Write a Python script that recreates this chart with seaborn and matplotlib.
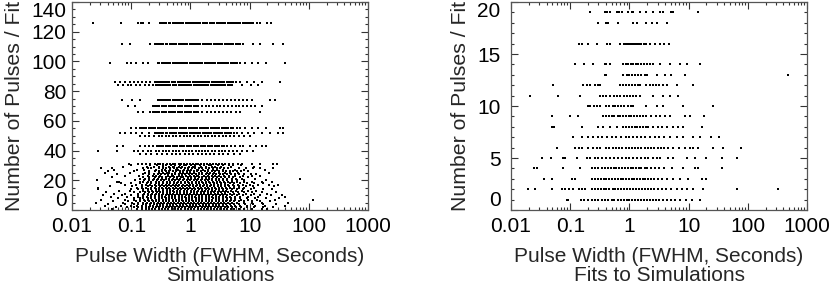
import numpy as np
import pandas as pd
import matplotlib
matplotlib.use("Agg")
import matplotlib.pyplot as plt
import seaborn as sns
from matplotlib.ticker import FixedLocator, MultipleLocator, LogLocator, NullFormatter

# ---- left panel: simulations (pulse widths for each number of pulses) ----
sim_126 = [0.023, 0.066, 0.13, 0.145, 0.16, 0.2, 0.31, 0.335, 0.36, 0.39, 0.43, 0.46, 0.5, 0.55, 0.6, 0.65, 0.7,
           0.76, 0.83, 0.9, 0.98, 1.06, 1.15, 1.25, 1.36, 1.48, 1.61, 1.75, 1.9, 2.15, 2.35, 2.55, 2.78, 3.0, 3.3,
           3.6, 3.9, 4.25, 4.6, 5.0, 5.45, 5.9, 6.4, 7.0, 7.6, 8.3, 9.0, 9.8, 10.7, 11.6, 13.5, 15, 19.5, 23]
sim_112 = [0.07, 0.095, 0.21, 0.25, 0.27, 0.295, 0.32, 0.35, 0.38, 0.41, 0.45, 0.49, 0.53, 0.58, 0.63, 0.69, 0.75,
           0.82, 0.89, 0.97, 1.05, 1.15, 1.25, 1.36, 1.48, 1.61, 1.75, 1.91, 2.08, 2.26, 2.46, 2.68, 2.92, 3.18,
           3.46, 3.77, 4.1, 4.5, 4.9, 5.3, 5.8, 6.3, 6.9, 7.8, 11.4, 15, 24.5, 37]
sim_99 = [0.044, 0.085, 0.1, 0.12, 0.16, 0.19, 0.28, 0.3, 0.33, 0.36, 0.39, 0.42, 0.46, 0.5, 0.54, 0.59, 0.64, 0.7,
          0.76, 0.82, 0.89, 0.97, 1.05, 1.14, 1.24, 1.35, 1.47, 1.6, 1.74, 1.89, 2.05, 2.23, 2.43, 2.64, 2.87, 3.12,
          3.4, 3.7, 4.0, 4.4, 4.8, 5.2, 5.6, 6.1, 6.9, 8.5, 11, 14, 19, 39]
sim_86 = [0.053, 0.064, 0.078, 0.094, 0.11, 0.13, 0.155, 0.18, 0.21, 0.25, 0.27, 0.29, 0.315, 0.34, 0.37, 0.4, 0.44,
          0.48, 0.52, 0.56, 0.61, 0.66, 0.72, 0.78, 0.85, 0.92, 1.0, 1.09, 1.18, 1.28, 1.39, 1.51, 1.64, 1.78, 1.93,
          2.1, 2.28, 2.48, 2.7, 2.93, 3.18, 3.45, 3.75, 4.1, 4.45, 4.85, 5.3, 5.8, 6.9, 9, 12, 16, 33]
sim_84 = [0.06, 0.072, 0.088, 0.1, 0.12, 0.14, 0.17, 0.2, 0.23, 0.26, 0.28, 0.305, 0.33, 0.36, 0.39, 0.42, 0.46, 0.5,
          0.54, 0.58, 0.63, 0.69, 0.75, 0.81, 0.88, 0.96, 1.04, 1.13, 1.23, 1.34, 1.45, 1.58, 1.72, 1.86, 2.02, 2.2,
          2.4, 2.6, 2.82, 3.06, 3.32, 3.6, 3.9, 4.25, 4.65, 5.1, 7.5, 10.5, 14]
sim_74 = [0.07, 0.104, 0.14, 0.28, 0.305, 0.33, 0.36, 0.39, 0.42, 0.46, 0.5, 0.54, 0.59, 0.64, 0.7, 0.76, 0.83, 0.9,
          0.98, 1.07, 1.16, 1.26, 1.37, 1.6, 1.9, 2.2, 2.6, 3.0, 3.5, 4.1, 4.8, 5.6, 6.5, 7.6, 8.9, 11, 22, 27]
sim_70 = [0.088, 0.116, 0.23, 0.25, 0.275, 0.3, 0.33, 0.36, 0.39, 0.43, 0.47, 0.51, 0.56, 0.61, 0.67, 0.73, 0.8, 0.87,
          0.95, 1.04, 1.13, 1.24, 1.35, 1.6, 1.8, 2.1, 2.4, 2.8, 3.2, 3.7, 4.3, 5.0, 5.8, 6.7, 7.8, 9.0, 10.5, 12.3,
          16.5]
sim_66 = [0.13, 0.16, 0.21, 0.23, 0.25, 0.275, 0.3, 0.33, 0.36, 0.39, 0.43, 0.47, 0.51, 0.56, 0.61, 0.67, 0.73, 0.8,
          0.87, 0.95, 1.04, 1.13, 1.24, 1.35, 1.6, 1.9, 2.2, 2.6, 3.0, 3.6, 4.2, 4.9, 5.8, 6.9, 15]
sim_55 = [0.1, 0.12, 0.14, 0.15, 0.165, 0.18, 0.2, 0.215, 0.235, 0.255, 0.28, 0.305, 0.33, 0.36, 0.39, 0.43, 0.47,
          0.51, 0.55, 0.6, 0.66, 0.72, 0.78, 0.85, 0.93, 1.01, 1.1, 1.2, 1.31, 1.43, 1.56, 1.7, 1.85, 2.02, 2.2, 2.4,
          2.62, 2.85, 3.1, 3.4, 3.7, 4.05, 4.4, 4.8, 5.3, 6.1, 6.9, 8.5, 11, 14, 19, 33, 37]
sim_52 = [0.065, 0.08, 0.1, 0.12, 0.15, 0.2, 0.25, 0.27, 0.295, 0.32, 0.35, 0.38, 0.41, 0.45, 0.49, 0.53, 0.58, 0.63,
          0.69, 0.75, 0.82, 0.89, 0.97, 1.06, 1.15, 1.25, 1.36, 1.48, 1.61, 1.75, 1.91, 2.08, 2.26, 2.46, 2.68, 2.92,
          3.18, 3.46, 3.77, 4.1, 4.5, 4.9, 5.4, 6.1, 7.5, 9.5, 12, 16, 22, 30, 37]
sim_50 = [0.14, 0.17, 0.2, 0.24, 0.29, 0.33, 0.38, 0.44, 0.51, 0.58, 0.67, 0.77, 0.89, 1.0, 1.15, 1.32, 1.52, 1.75,
          2.0, 2.3, 2.65, 3.05, 3.5, 4.0, 4.7, 5.5, 6.5, 8.0, 10]
sim_43 = [0.058, 0.073, 0.14, 0.17, 0.2, 0.23, 0.27, 0.295, 0.32, 0.35, 0.38, 0.42, 0.46, 0.5, 0.55, 0.6, 0.66, 0.72,
          0.79, 0.86, 0.94, 1.03, 1.13, 1.24, 1.36, 1.49, 1.63, 1.79, 1.96, 2.15, 2.36, 2.59, 2.84, 3.1, 3.4, 3.75,
          4.2, 4.8, 5.6, 6.9, 7.8, 10, 13, 16, 19]
sim_40 = [0.028, 0.058, 0.11, 0.13, 0.16, 0.19, 0.22, 0.26, 0.3, 0.34, 0.39, 0.44, 0.5, 0.57, 0.65, 0.74, 0.84, 0.95,
          1.08, 1.22, 1.38, 1.56, 1.77, 2.0, 2.3, 2.6, 3.0, 3.4, 3.9, 4.5, 5.2, 6.1, 7.4, 9, 11.5]
sim_38 = [0.14, 0.18, 0.22, 0.27, 0.33, 0.4, 0.48, 0.57, 0.68, 0.8, 0.95, 1.12, 1.32, 1.55, 1.82, 2.15, 2.55, 3.0,
          3.6, 4.4, 5.4, 6.9]
sim_31 = [0.093, 0.13, 0.15, 0.18, 0.21, 0.25, 0.28, 0.31, 0.35, 0.4, 0.45, 0.5, 0.56, 0.63, 0.7, 0.78, 0.88, 0.98,
          1.1, 1.22, 1.37, 1.53, 1.7, 1.9, 2.15, 2.4, 2.7, 3.0, 3.4, 3.8, 4.5, 5.3, 6.3, 7.4, 11, 15, 25, 29]
sim_30 = [0.1, 0.21, 0.27, 0.34, 0.39, 0.47, 0.55, 0.68, 0.79, 0.83, 1.04, 1.21, 1.43, 1.71, 2.06, 2.21, 2.94, 3.6,
          4.45, 5.3, 7.1]
sim_29 = [0.072, 0.185, 0.24, 0.3, 0.35, 0.43, 0.5, 0.53, 0.64, 0.72, 0.94, 1.1, 1.18, 1.52, 1.8, 2.33, 2.6, 3.25,
          4.9, 12]
sim_28 = [0.031, 0.047, 0.16, 0.19, 0.22, 0.3, 0.34, 0.39, 0.45, 0.52, 0.6, 0.7, 0.8, 0.92, 1.05, 1.2, 1.4, 1.6,
          1.85, 2.1, 2.45, 2.8, 3.2, 3.7, 4.3, 6.5, 8.8, 11.5, 15, 25]
sim_27 = [0.052, 0.125, 0.165, 0.26, 0.33, 0.37, 0.46, 0.58, 0.61, 0.78, 0.9, 1.02, 1.27, 1.36, 1.62, 1.95, 2.45, 2.8,
          3.5, 5.6, 8.1, 18]
sim_26 = [0.04, 0.11, 0.2, 0.25, 0.29, 0.33, 0.38, 0.44, 0.5, 0.58, 0.66, 0.76, 0.87, 1.0, 1.15, 1.3, 1.5, 1.75,
          2.0, 2.3, 2.6, 3.0, 3.5, 4.0, 4.6, 5.3, 6.2, 7.2, 9.5]
sim_25 = [0.036, 0.095, 0.17, 0.2, 0.29, 0.34, 0.4, 0.44, 0.56, 0.67, 0.74, 0.88, 1.0, 1.16, 1.39, 1.57, 1.9, 2.15,
          2.55, 3.1, 3.8, 4.6, 6.3, 21]
sim_24 = [0.057, 0.16, 0.2, 0.24, 0.28, 0.32, 0.37, 0.42, 0.48, 0.55, 0.63, 0.72, 0.82, 0.94, 1.08, 1.23, 1.4, 1.6,
          1.85, 2.1, 2.4, 2.75, 3.15, 3.6, 4.1, 4.8, 5.6, 6.5, 8.0, 10.5, 13]
sim_23 = [0.078, 0.135, 0.19, 0.23, 0.26, 0.31, 0.42, 0.48, 0.51, 0.63, 0.71, 0.85, 0.97, 1.13, 1.29, 1.35, 1.72,
          1.98, 2.3, 2.62, 3.05, 3.7, 4.5, 5.6, 7.6, 10.8, 15]
sim_22 = [0.047, 0.16, 0.2, 0.25, 0.3, 0.33, 0.39, 0.45, 0.52, 0.59, 0.69, 0.76, 0.91, 1.01, 1.19, 1.38, 1.55, 1.82,
          2.09, 2.4, 2.78, 3.25, 3.8, 4.45, 5.3, 6.9, 9.4]
sim_21 = [0.14, 0.17, 0.2, 0.24, 0.28, 0.33, 0.38, 0.44, 0.51, 0.59, 0.68, 0.78, 0.9, 1.03, 1.18, 1.35, 1.55, 1.8,
          2.05, 2.35, 2.7, 3.1, 3.6, 4.2, 5.0, 6.0, 7.5, 12.5, 71]
sim_20 = [0.026, 0.115, 0.165, 0.2, 0.235, 0.27, 0.32, 0.36, 0.43, 0.48, 0.56, 0.65, 0.74, 0.86, 0.99, 1.14, 1.3,
          1.52, 1.75, 2.0, 2.32, 2.67, 3.08, 3.55, 4.2, 5.0, 6.2, 8.0, 19]
sim_19 = [0.058, 0.063, 0.14, 0.16, 0.19, 0.22, 0.26, 0.3, 0.35, 0.4, 0.46, 0.53, 0.61, 0.7, 0.8, 0.92, 1.06, 1.22,
          1.4, 1.6, 1.85, 2.1, 2.45, 2.8, 3.2, 3.7, 4.3, 5.1, 6.2, 8.2, 11, 16, 24]
sim_18 = [0.067, 0.1, 0.14, 0.185, 0.215, 0.26, 0.3, 0.345, 0.4, 0.46, 0.53, 0.6, 0.7, 0.8, 0.93, 1.07, 1.22, 1.41,
          1.62, 1.86, 2.15, 2.48, 2.85, 3.3, 3.85, 4.6, 5.5, 6.8, 9, 12, 17]
sim_17 = [0.08, 0.12, 0.15, 0.18, 0.21, 0.25, 0.29, 0.33, 0.38, 0.44, 0.5, 0.57, 0.65, 0.75, 0.86, 0.98, 1.12, 1.28,
          1.46, 1.67, 1.9, 2.2, 2.5, 2.9, 3.3, 3.8, 4.4, 5.2, 6.3, 7.8, 10, 14, 21, 30]
sim_16 = [0.043, 0.105, 0.15, 0.19, 0.225, 0.265, 0.31, 0.355, 0.41, 0.475, 0.545, 0.62, 0.72, 0.82, 0.95, 1.09,
          1.25, 1.43, 1.64, 1.89, 2.17, 2.5, 2.87, 3.3, 3.85, 4.55, 5.45, 6.6, 8.6, 11.5, 26]
sim_15 = [0.027, 0.125, 0.15, 0.18, 0.215, 0.25, 0.29, 0.335, 0.385, 0.44, 0.505, 0.58, 0.665, 0.76, 0.875, 1.0,
          1.15, 1.32, 1.52, 1.75, 2.0, 2.3, 2.63, 3.0, 3.45, 4.0, 4.65, 5.45, 6.5, 7.9, 12]
sim_14 = [0.028, 0.1, 0.13, 0.16, 0.19, 0.22, 0.26, 0.3, 0.35, 0.4, 0.46, 0.53, 0.61, 0.7, 0.8, 0.92, 1.05, 1.2, 1.38,
          1.58, 1.8, 2.06, 2.36, 2.7, 3.1, 3.6, 4.2, 5.0, 6.1, 7.8, 10.5, 17, 24]
sim_13 = [0.062, 0.095, 0.16, 0.195, 0.225, 0.26, 0.3, 0.345, 0.395, 0.45, 0.515, 0.59, 0.675, 0.775, 0.89, 1.02,
          1.17, 1.34, 1.54, 1.76, 2.02, 2.31, 2.65, 3.04, 3.5, 4.05, 4.8, 5.8, 7.3, 9.5, 13]
sim_12 = [0.037, 0.11, 0.14, 0.17, 0.2, 0.23, 0.27, 0.31, 0.35, 0.4, 0.46, 0.52, 0.6, 0.68, 0.78, 0.89, 1.01, 1.15,
          1.31, 1.5, 1.71, 1.95, 2.22, 2.53, 2.9, 3.3, 3.8, 4.4, 5.2, 6.3, 8.0, 11, 16, 28]
sim_11 = [0.052, 0.08, 0.13, 0.165, 0.195, 0.225, 0.26, 0.3, 0.345, 0.395, 0.45, 0.515, 0.59, 0.675, 0.775, 0.88,
          1.0, 1.15, 1.31, 1.5, 1.72, 1.97, 2.25, 2.58, 2.95, 3.4, 3.9, 4.6, 5.5, 6.7, 8.6, 12, 20]
sim_10 = [0.033, 0.07, 0.1, 0.13, 0.16, 0.19, 0.22, 0.25, 0.29, 0.33, 0.38, 0.43, 0.49, 0.56, 0.64, 0.73, 0.83, 0.95,
          1.08, 1.23, 1.4, 1.6, 1.83, 2.09, 2.39, 2.73, 3.12, 3.6, 4.2, 5.0, 6.1, 7.8, 10.5, 15, 23, 35]
sim_9 = [0.046, 0.085, 0.13, 0.16, 0.185, 0.215, 0.25, 0.29, 0.33, 0.375, 0.43, 0.49, 0.555, 0.63, 0.72, 0.815, 0.93,
         1.06, 1.21, 1.38, 1.58, 1.8, 2.05, 2.35, 2.68, 3.07, 3.5, 4.05, 4.7, 5.6, 7.0, 9.3, 14, 40]
sim_8 = [0.06, 0.11, 0.14, 0.16, 0.19, 0.22, 0.25, 0.29, 0.33, 0.38, 0.43, 0.49, 0.56, 0.64, 0.73, 0.83, 0.95, 1.08,
         1.23, 1.4, 1.6, 1.82, 2.08, 2.37, 2.7, 3.1, 3.55, 4.1, 4.8, 5.7, 7.0, 9.0, 12.5, 19, 31]
sim_7 = [0.031, 0.078, 0.11, 0.14, 0.165, 0.195, 0.225, 0.26, 0.3, 0.34, 0.385, 0.44, 0.5, 0.565, 0.64, 0.73, 0.83,
         0.95, 1.08, 1.23, 1.4, 1.6, 1.82, 2.07, 2.36, 2.7, 3.08, 3.55, 4.1, 4.8, 5.7, 7.1, 9.5, 13.5, 27, 117]
sim_6 = [0.05, 0.09, 0.12, 0.14, 0.17, 0.2, 0.23, 0.26, 0.3, 0.34, 0.39, 0.44, 0.5, 0.57, 0.65, 0.74, 0.84, 0.96,
         1.09, 1.24, 1.41, 1.6, 1.82, 2.07, 2.36, 2.69, 3.07, 3.5, 4.0, 4.6, 5.4, 6.5, 8.2, 10.8, 15, 22]
sim_5 = [0.025, 0.072, 0.105, 0.13, 0.16, 0.185, 0.215, 0.245, 0.28, 0.32, 0.365, 0.415, 0.47, 0.535, 0.61, 0.695,
         0.79, 0.9, 1.02, 1.16, 1.32, 1.5, 1.71, 1.95, 2.22, 2.52, 2.88, 3.28, 3.75, 4.35, 5.1, 6.2, 8.0, 11, 16.5, 45]
sim_4 = [0.04, 0.08, 0.11, 0.13, 0.16, 0.18, 0.21, 0.24, 0.27, 0.31, 0.35, 0.4, 0.45, 0.51, 0.58, 0.66, 0.75, 0.85,
         0.97, 1.1, 1.25, 1.42, 1.61, 1.83, 2.08, 2.37, 2.7, 3.08, 3.5, 4.0, 4.6, 5.4, 6.6, 8.4, 11.5, 17, 28]
sim_3 = [0.036, 0.068, 0.1, 0.125, 0.15, 0.18, 0.205, 0.235, 0.27, 0.31, 0.35, 0.395, 0.45, 0.515, 0.585, 0.665,
         0.755, 0.86, 0.97, 1.1, 1.26, 1.43, 1.62, 1.85, 2.1, 2.4, 2.72, 3.1, 3.55, 4.1, 4.8, 5.7, 7.0, 9.0, 12.5, 18,
         40]
sim_2 = [0.055, 0.085, 0.11, 0.13, 0.15, 0.18, 0.2, 0.23, 0.26, 0.3, 0.34, 0.38, 0.43, 0.49, 0.56, 0.64, 0.72, 0.82,
         0.93, 1.06, 1.2, 1.36, 1.55, 1.76, 2.0, 2.27, 2.58, 2.93, 3.33, 3.8, 4.35, 5.0, 5.9, 7.2, 9.0, 12, 17, 25]
sim_1 = [0.047, 0.125, 0.15, 0.175, 0.2, 0.225, 0.255, 0.29, 0.33, 0.375, 0.425, 0.48, 0.545, 0.62, 0.705, 0.8, 0.905,
         1.03, 1.17, 1.32, 1.5, 1.71, 1.94, 2.2, 2.5, 2.85, 3.25, 3.7, 4.2, 4.8, 5.5, 6.6, 8.2, 11, 16, 20]

sim_levels = [126, 112, 99, 86, 84, 74, 70, 66, 55, 52, 50, 43, 40, 38, 31, 30, 29, 28, 27, 26, 25, 24, 23, 22, 21,
              20, 19, 18, 17, 16, 15, 14, 13, 12, 11, 10, 9, 8, 7, 6, 5, 4, 3, 2, 1]
sim_rows = [sim_126, sim_112, sim_99, sim_86, sim_84, sim_74, sim_70, sim_66, sim_55, sim_52, sim_50, sim_43, sim_40,
            sim_38, sim_31, sim_30, sim_29, sim_28, sim_27, sim_26, sim_25, sim_24, sim_23, sim_22, sim_21, sim_20,
            sim_19, sim_18, sim_17, sim_16, sim_15, sim_14, sim_13, sim_12, sim_11, sim_10, sim_9, sim_8, sim_7,
            sim_6, sim_5, sim_4, sim_3, sim_2, sim_1]

# ---- right panel: fits to simulations ----
fit_19 = [0.22, 0.39, 0.42, 0.47, 0.61, 0.68, 0.74, 0.96, 1.1, 1.17, 1.5, 1.9, 2.5, 3.3, 3.7, 5.1, 5.4, 14.4]
fit_18 = [0.29, 0.4, 0.44, 0.65, 1.17, 1.36, 1.94, 2.4, 2.9, 4.3]
fit_16 = [0.14, 0.16, 0.2, 0.28, 0.42, 0.47, 0.69, 0.8, 0.87, 0.95, 1.02, 1.1, 1.2, 1.3, 1.4, 1.5, 1.6, 1.75, 1.9,
          2.2, 2.7, 3.3, 3.8, 4.6]
fit_14 = [0.12, 0.17, 0.245, 0.39, 0.41, 0.47, 0.79, 0.87, 0.95, 1.05, 1.15, 1.27, 1.4, 1.55, 1.75, 2.0, 2.2, 2.5,
          3.3, 4.85, 7.2, 9.3, 15.5]
fit_13 = [0.39, 0.41, 0.79, 0.9, 1.0, 1.12, 1.25, 1.4, 1.6, 1.8, 2.0, 2.9, 4.0, 5.1, 8.7, 480]
fit_12 = [0.051, 0.165, 0.19, 0.22, 0.26, 0.3, 0.32, 0.69, 0.78, 0.88, 1.0, 1.12, 1.25, 1.4, 1.5, 1.94, 2.2, 2.5, 2.8,
          3.2, 3.7, 4.3, 6.3, 12]
fit_11 = [0.021, 0.063, 0.147, 0.32, 0.36, 0.41, 0.47, 0.55, 0.62, 0.7, 0.8, 0.9, 1.02, 1.15, 1.3, 1.5, 2.5, 3.7,
          4.85, 6.6]
fit_10 = [0.2, 0.22, 0.25, 0.28, 0.32, 0.41, 0.46, 0.52, 0.58, 0.65, 0.73, 0.82, 0.93, 1.05, 1.17, 1.94, 2.9, 3.7,
          8.1, 26]
fit_9 = [0.049, 0.099, 0.137, 0.36, 0.4, 0.45, 0.5, 0.56, 0.63, 0.7, 0.78, 0.87, 0.97, 1.08, 1.2, 1.35, 1.5, 1.7, 1.9,
         2.3, 2.8, 3.3, 4.0, 4.85, 8.6, 10.5, 18]
fit_8 = [0.049, 0.054, 0.156, 0.3, 0.36, 0.47, 0.61, 0.79, 0.88, 0.98, 1.1, 1.22, 1.36, 1.52, 1.7, 1.9, 2.1, 2.5, 3.0,
         3.6, 4.4, 5.4, 6.6, 8.1, 16.6]
fit_7 = [0.113, 0.156, 0.2, 0.245, 0.29, 0.35, 0.42, 0.5, 0.6, 0.72, 0.86, 1.0, 1.17, 1.33, 1.55, 1.85, 2.2, 2.7, 3.2,
         3.9, 4.9, 6.3, 8.1, 12, 15.5, 24, 33]
fit_6 = [0.059, 0.12, 0.14, 0.156, 0.2, 0.24, 0.28, 0.32, 0.41, 0.46, 0.52, 0.59, 0.67, 0.76, 0.86, 0.97, 1.1, 1.25,
         1.42, 1.6, 1.8, 2.05, 2.3, 2.6, 3.0, 3.4, 3.9, 4.5, 5.5, 7.0, 8.6, 10.5, 12, 14.6, 26, 38, 78]
fit_5 = [0.034, 0.047, 0.075, 0.081, 0.13, 0.19, 0.22, 0.26, 0.3, 0.35, 0.41, 0.47, 0.55, 0.64, 0.74, 0.86, 1.0, 1.15,
         1.35, 1.55, 1.8, 2.1, 2.5, 2.9, 3.3, 4.5, 5.5, 9.3, 13, 20, 36, 65]
fit_4 = [0.024, 0.027, 0.076, 0.147, 0.23, 0.26, 0.3, 0.34, 0.38, 0.43, 0.48, 0.54, 0.6, 0.67, 0.75, 0.84, 0.94, 1.05,
         1.17, 1.3, 1.45, 1.6, 1.8, 2.0, 2.3, 2.7, 3.2, 3.8, 5.2, 8.0, 13, 14.4, 37]
fit_3 = [0.036, 0.049, 0.106, 0.12, 0.23, 0.26, 0.29, 0.33, 0.37, 0.41, 0.46, 0.51, 0.57, 0.64, 0.71, 0.79, 0.88, 0.98,
         1.09, 1.21, 1.35, 1.5, 1.67, 1.86, 2.07, 2.3, 2.6, 3.0, 3.6, 4.4, 5.5, 7.2, 9.8, 16.6, 20]
fit_2 = [0.019, 0.025, 0.049, 0.072, 0.083, 0.095, 0.113, 0.14, 0.16, 0.18, 0.23, 0.26, 0.29, 0.33, 0.37, 0.41, 0.46,
         0.52, 0.58, 0.65, 0.73, 0.82, 0.92, 1.03, 1.15, 1.29, 1.45, 1.62, 1.82, 2.05, 2.3, 2.6, 3.0, 3.5, 4.2, 5.0,
         6.3, 7.6, 9.5, 12, 17.7, 65, 330]
fit_1 = [0.087, 0.093, 0.15, 0.17, 0.2, 0.23, 0.26, 0.3, 0.34, 0.39, 0.44, 0.5, 0.56, 0.63, 0.71, 0.8, 0.9, 1.0, 1.12,
         1.25, 1.4, 1.57, 1.76, 1.97, 2.2, 2.5, 2.8, 3.2, 3.7, 4.3, 5.0, 6.0, 7.2, 9.0, 11.5, 15.5]

fit_levels = [19, 18, 16, 14, 13, 12, 11, 10, 9, 8, 7, 6, 5, 4, 3, 2, 1]
fit_rows = [fit_19, fit_18, fit_16, fit_14, fit_13, fit_12, fit_11, fit_10, fit_9, fit_8, fit_7, fit_6, fit_5, fit_4,
            fit_3, fit_2, fit_1]

xtick_vals = [0.01, 0.1, 1, 10, 100, 1000]
xtick_text = ['0.01', '0.1', '1', '10', '100', '1000']


def to_frame(levels, rows):
    recs = []
    for n, widths in zip(levels, rows):
        for w in widths:
            recs.append((w, n))
    return pd.DataFrame(recs, columns=['width', 'npulse'])


sim_df = to_frame(sim_levels, sim_rows)
fit_df = to_frame(fit_levels, fit_rows)

sns.set_style("ticks")
plt.rcParams['font.family'] = ['Liberation Sans', 'DejaVu Sans']
FS = 15

fig = plt.figure(figsize=(8.3, 2.87), dpi=100)
ax1 = fig.add_axes([72 / 830, 77 / 287, 296 / 830, 208 / 287])
ax2 = fig.add_axes([511 / 830, 77 / 287, 296 / 830, 208 / 287])

# axes, data, y top, major step, minor step, caption, y tick pad
panels = [(ax1, sim_df, 140, 20, 5, 'Simulations', 4),
          (ax2, fit_df, 20, 5, 1, 'Fits to Simulations', 7.5)]

for ax, df, ytop, ymaj, ymin, sub, ypad in panels:
    sns.scatterplot(data=df, x='width', y='npulse', ax=ax, marker='s', s=0.65,
                    color='black', linewidth=0, legend=False)
    ax.set_xscale('log')
    ax.set_xlim(0.01, 1000)
    ax.set_ylim(0, ytop)
    ax.xaxis.set_major_locator(FixedLocator(xtick_vals))
    ax.set_xticklabels(xtick_text)
    ax.xaxis.set_minor_locator(LogLocator(base=10, subs=np.arange(2, 10)))
    ax.xaxis.set_minor_formatter(NullFormatter())
    ax.yaxis.set_major_locator(FixedLocator(list(range(0, ytop + 1, ymaj))))
    ax.set_yticklabels([str(v) for v in range(0, ytop + 1, ymaj)])
    ax.yaxis.set_minor_locator(MultipleLocator(ymin))
    ax.tick_params(which='both', direction='in', top=True, right=True, colors='#333333',
                   labelcolor='black', labelsize=FS, width=0.8)
    ax.tick_params(which='major', length=5)
    ax.tick_params(which='minor', length=2.5)
    ax.tick_params(axis='x', pad=5)
    ax.tick_params(axis='y', pad=ypad)
    # keep the end labels inside the frame height, as in the original
    ylabels = ax.get_yticklabels()
    ylabels[0].set_verticalalignment('bottom')
    ylabels[-1].set_verticalalignment('top')
    for sp in ax.spines.values():
        sp.set_color('#555555')
        sp.set_linewidth(0.9)
    ax.set_xlabel('Pulse Width (FWHM, Seconds)\n' + sub, fontsize=15, linespacing=1.0, labelpad=8)
    ax.set_ylabel('Number of Pulses / Fit', fontsize=15.3, labelpad=5)

fig.savefig('out.png', dpi=100)
